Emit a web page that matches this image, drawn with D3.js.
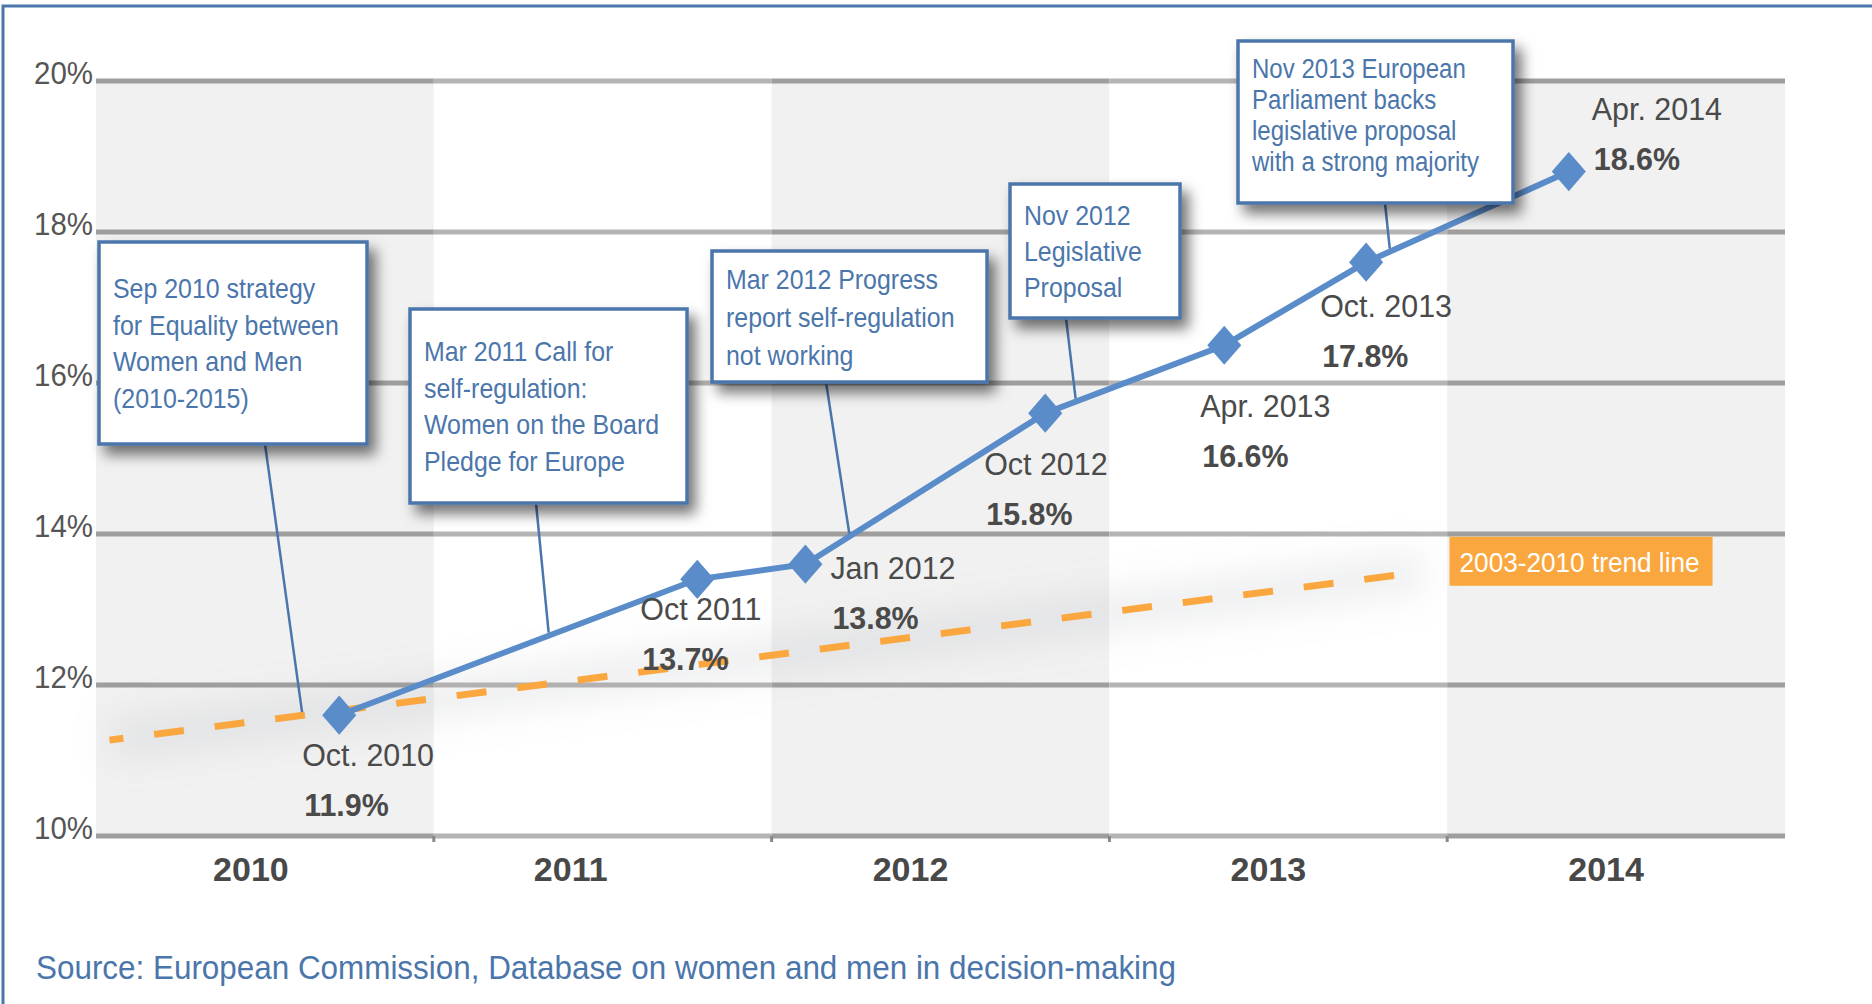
<!DOCTYPE html>
<html>
<head>
<meta charset="utf-8">
<script src="https://cdn.jsdelivr.net/npm/d3@7"></script>
<style>
  body { margin: 0; background: #fff; }
  svg text { font-family: "Liberation Sans", Arial, sans-serif; }
</style>
</head>
<body>
<div id="chart"></div>
<script>
// Canvas size.
const WIDTH = 1872;
const HEIGHT = 1004;

// The data.
const years = [2010, 2011, 2012, 2013, 2014];
const yTicks = [10, 12, 14, 16, 18, 20];
// where each survey point sits on the time axis (decimal years) and how high it is drawn
const pointDates = [2010.72, 2011.78, 2012.10, 2012.81, 2013.34, 2013.76, 2014.36];
const pointValues = [11.6, 13.4, 13.6, 15.6, 16.5, 17.6, 18.8];
const pointNames = ["Oct. 2010", "Oct 2011", "Jan 2012", "Oct 2012", "Apr. 2013", "Oct. 2013", "Apr. 2014"];
const pointLabels = ["11.9%", "13.7%", "13.8%", "15.8%", "16.6%", "17.8%", "18.6%"];
const trendDates = [2010.04, 2013.93];
const trendValues = [11.27, 13.5];
const trendName = "2003-2010 trend line";
const eventDates = [2010.61, 2011.34, 2012.23, 2012.90, 2013.83];
const eventTexts = [
    ["Sep 2010 strategy", "for Equality between", "Women and Men", "(2010-2015)"],
    ["Mar 2011 Call for", "self-regulation:", "Women on the Board", "Pledge for Europe"],
    ["Mar 2012 Progress", "report self-regulation", "not working"],
    ["Nov 2012", "Legislative", "Proposal"],
    ["Nov 2013 European", "Parliament backs", "legislative proposal", "with a strong majority"]
];
const sourceText = "Source: European Commission, Database on women and men in decision-making";

// Layout of the callout boxes and the labels.
const boxes = [
    { x: 99, y: 242, w: 268, h: 202, pad: 56, lh: 36.5, fs: 28, stem: 265 },
    { x: 410, y: 309, w: 277, h: 194, pad: 52, lh: 36.5, fs: 28, stem: 536 },
    { x: 712, y: 251, w: 275, h: 131, pad: 38, lh: 38, fs: 28, stem: 826 },
    { x: 1010, y: 184, w: 170, h: 134, pad: 41, lh: 36, fs: 28, stem: 1066 },
    { x: 1238, y: 41, w: 275, h: 162, pad: 37, lh: 31, fs: 27, stem: 1385 }
];
const labelOffsets = [[-37, 39], [-57, 29], [25, 3], [-61, 50], [-24, 60], [-46, 43], [23, -64]];
const yearNudge = [-14, -32, -30, -10, -10];

// Colours.
const BLUE = "#4b76ab";
const LINE_BLUE = "#5a8cca";
const ORANGE = "#f9a73e";
const DARK = "#4a4a4a";

// Squeezes text horizontally, the original uses a condensed face.
function squeeze(sel, factor) {
    sel.each(function () {
        const w = this.getComputedTextLength();
        d3.select(this)
            .attr("textLength", w * factor)
            .attr("lengthAdjust", "spacingAndGlyphs");
    });
}

const svg = d3.select("#chart")
    .append("svg")
    .attr("width", WIDTH)
    .attr("height", HEIGHT);

const defs = svg.append("defs");
defs.append("filter")
    .attr("id", "shadow")
    .attr("x", "-20%").attr("y", "-20%")
    .attr("width", "150%").attr("height", "150%")
    .append("feDropShadow")
    .attr("dx", 7).attr("dy", 9)
    .attr("stdDeviation", 7)
    .attr("flood-color", "#000")
    .attr("flood-opacity", 0.55);
defs.append("filter")
    .attr("id", "glow")
    .attr("x", "-20%").attr("y", "-200%")
    .attr("width", "140%").attr("height", "500%")
    .append("feGaussianBlur")
    .attr("stdDeviation", 18);

// Scales.
const xScale = d3.scaleLinear()
    .domain([2010, 2015])
    .range([96, 1785]);

const yScale = d3.scaleLinear()
    .domain([10, 20])
    .range([836, 81]);

// Year bands.
svg.append("g")
    .selectAll("rect")
    .data(years)
    .enter()
    .append("rect")
    .attr("x", d => xScale(d))
    .attr("y", yScale(20))
    .attr("width", d => xScale(d + 1) - xScale(d))
    .attr("height", yScale(10) - yScale(20))
    .attr("fill", (d, i) => i % 2 === 0 ? "#f1f1f1" : "#ffffff");

// Gridlines, a little darker over the grey bands.
const grid = svg.append("g");
yTicks.forEach(t => {
    grid.selectAll(null)
        .data(years)
        .enter()
        .append("line")
        .attr("x1", d => xScale(d))
        .attr("x2", d => xScale(d + 1))
        .attr("y1", yScale(t))
        .attr("y2", yScale(t))
        .attr("stroke", (d, i) => i % 2 === 0 ? "#a09d9d" : "#b6b3b3")
        .attr("stroke-width", 5);
});

// Small ticks between the years.
svg.append("g")
    .selectAll("line")
    .data(years.slice(1))
    .enter()
    .append("line")
    .attr("x1", d => xScale(d))
    .attr("x2", d => xScale(d))
    .attr("y1", yScale(10))
    .attr("y2", yScale(10) + 6)
    .attr("stroke", "#8a8787")
    .attr("stroke-width", 3);

// Y axis labels.
svg.append("g")
    .selectAll("text")
    .data(yTicks)
    .enter()
    .append("text")
    .attr("x", 93)
    .attr("y", d => yScale(d) + 3)
    .attr("text-anchor", "end")
    .attr("font-size", 31)
    .attr("fill", "#555")
    .text(d => d + "%")
    .call(squeeze, 0.95);

// X axis labels.
svg.append("g")
    .selectAll("text")
    .data(years)
    .enter()
    .append("text")
    .attr("x", (d, i) => xScale(d + 0.5) + yearNudge[i])
    .attr("y", 881)
    .attr("text-anchor", "middle")
    .attr("font-size", 34)
    .attr("font-weight", "bold")
    .attr("fill", "#484848")
    .text(d => d);

// Trend line with its soft shadow.
const trend = trendDates.map((d, i) => [xScale(d), yScale(trendValues[i])]);
svg.append("path")
    .attr("d", d3.line()(trend))
    .attr("stroke", "#9aa0a8")
    .attr("stroke-width", 40)
    .attr("stroke-opacity", 0.18)
    .attr("fill", "none")
    .attr("filter", "url(#glow)");
svg.append("path")
    .attr("d", d3.line()(trend))
    .attr("stroke", ORANGE)
    .attr("stroke-width", 7)
    .attr("stroke-dasharray", "30 31")
    .attr("stroke-dashoffset", 16)
    .attr("fill", "none");

const trendBox = svg.append("g")
    .attr("transform", `translate(${xScale(trendDates[1]) + 26}, ${yScale(trendValues[1]) - 35})`);
trendBox.append("rect")
    .attr("width", 263)
    .attr("height", 49)
    .attr("fill", ORANGE);
trendBox.append("text")
    .attr("x", 10)
    .attr("y", 35)
    .attr("font-size", 28)
    .attr("fill", "#fff")
    .attr("textLength", 240)
    .attr("lengthAdjust", "spacingAndGlyphs")
    .text(trendName);

// Series line.
const points = pointDates.map((d, i) => [xScale(d), yScale(pointValues[i])]);
svg.append("path")
    .attr("d", d3.line()(points))
    .attr("stroke", LINE_BLUE)
    .attr("stroke-width", 6)
    .attr("fill", "none");

// Leader lines from the callouts to the series.
const lineAt = x => {
    const v = d3.scaleLinear().domain(pointDates).range(pointValues).clamp(true);
    return yScale(v(x));
};
svg.append("g")
    .selectAll("line")
    .data(eventDates)
    .enter()
    .append("line")
    .attr("x1", (d, i) => boxes[i].stem)
    .attr("y1", (d, i) => boxes[i].y + boxes[i].h)
    .attr("x2", d => xScale(d))
    .attr("y2", d => lineAt(d) - 3)
    .attr("stroke", BLUE)
    .attr("stroke-width", 2.5);

// Markers.
svg.append("g")
    .selectAll("path")
    .data(points)
    .enter()
    .append("path")
    .attr("d", d3.symbol(d3.symbolDiamond2, 740))
    .attr("transform", d => `translate(${d[0]}, ${d[1]}) scale(1, 1.15)`)
    .attr("fill", LINE_BLUE);

// Point labels.
const labels = svg.append("g")
    .selectAll("g")
    .data(points)
    .enter()
    .append("g")
    .attr("transform", (d, i) => `translate(${d[0] + labelOffsets[i][0]}, ${d[1] + labelOffsets[i][1]})`);
labels.append("text")
    .attr("y", 12)
    .attr("font-size", 32)
    .attr("fill", DARK)
    .text((d, i) => pointNames[i])
    .call(squeeze, 0.95);
labels.append("text")
    .attr("x", 2)
    .attr("y", 62)
    .attr("font-size", 32)
    .attr("font-weight", "bold")
    .attr("fill", DARK)
    .text((d, i) => pointLabels[i])
    .call(squeeze, 0.95);

// Callout boxes.
const callouts = svg.append("g")
    .selectAll("g")
    .data(eventTexts)
    .enter()
    .append("g")
    .attr("transform", (d, i) => `translate(${boxes[i].x}, ${boxes[i].y})`);
callouts.append("rect")
    .attr("width", (d, i) => boxes[i].w)
    .attr("height", (d, i) => boxes[i].h)
    .attr("fill", "#fff")
    .attr("stroke", BLUE)
    .attr("stroke-width", 3.5)
    .attr("filter", "url(#shadow)");
callouts.each(function (lines, i) {
    d3.select(this)
        .selectAll("text")
        .data(lines)
        .enter()
        .append("text")
        .attr("x", 14)
        .attr("y", (d, j) => boxes[i].pad + j * boxes[i].lh)
        .attr("font-size", boxes[i].fs)
        .attr("fill", BLUE)
        .text(d => d)
        .call(squeeze, 0.89);
});

// Source line.
svg.append("text")
    .attr("x", 36)
    .attr("y", 979)
    .attr("font-size", 33)
    .attr("fill", BLUE)
    .attr("textLength", 1140)
    .attr("lengthAdjust", "spacingAndGlyphs")
    .text(sourceText);

// Outer frame.
svg.append("rect")
    .attr("x", 3)
    .attr("y", 6)
    .attr("width", WIDTH + 10)
    .attr("height", HEIGHT + 10)
    .attr("fill", "none")
    .attr("stroke", BLUE)
    .attr("stroke-width", 3);
</script>
</body>
</html>
